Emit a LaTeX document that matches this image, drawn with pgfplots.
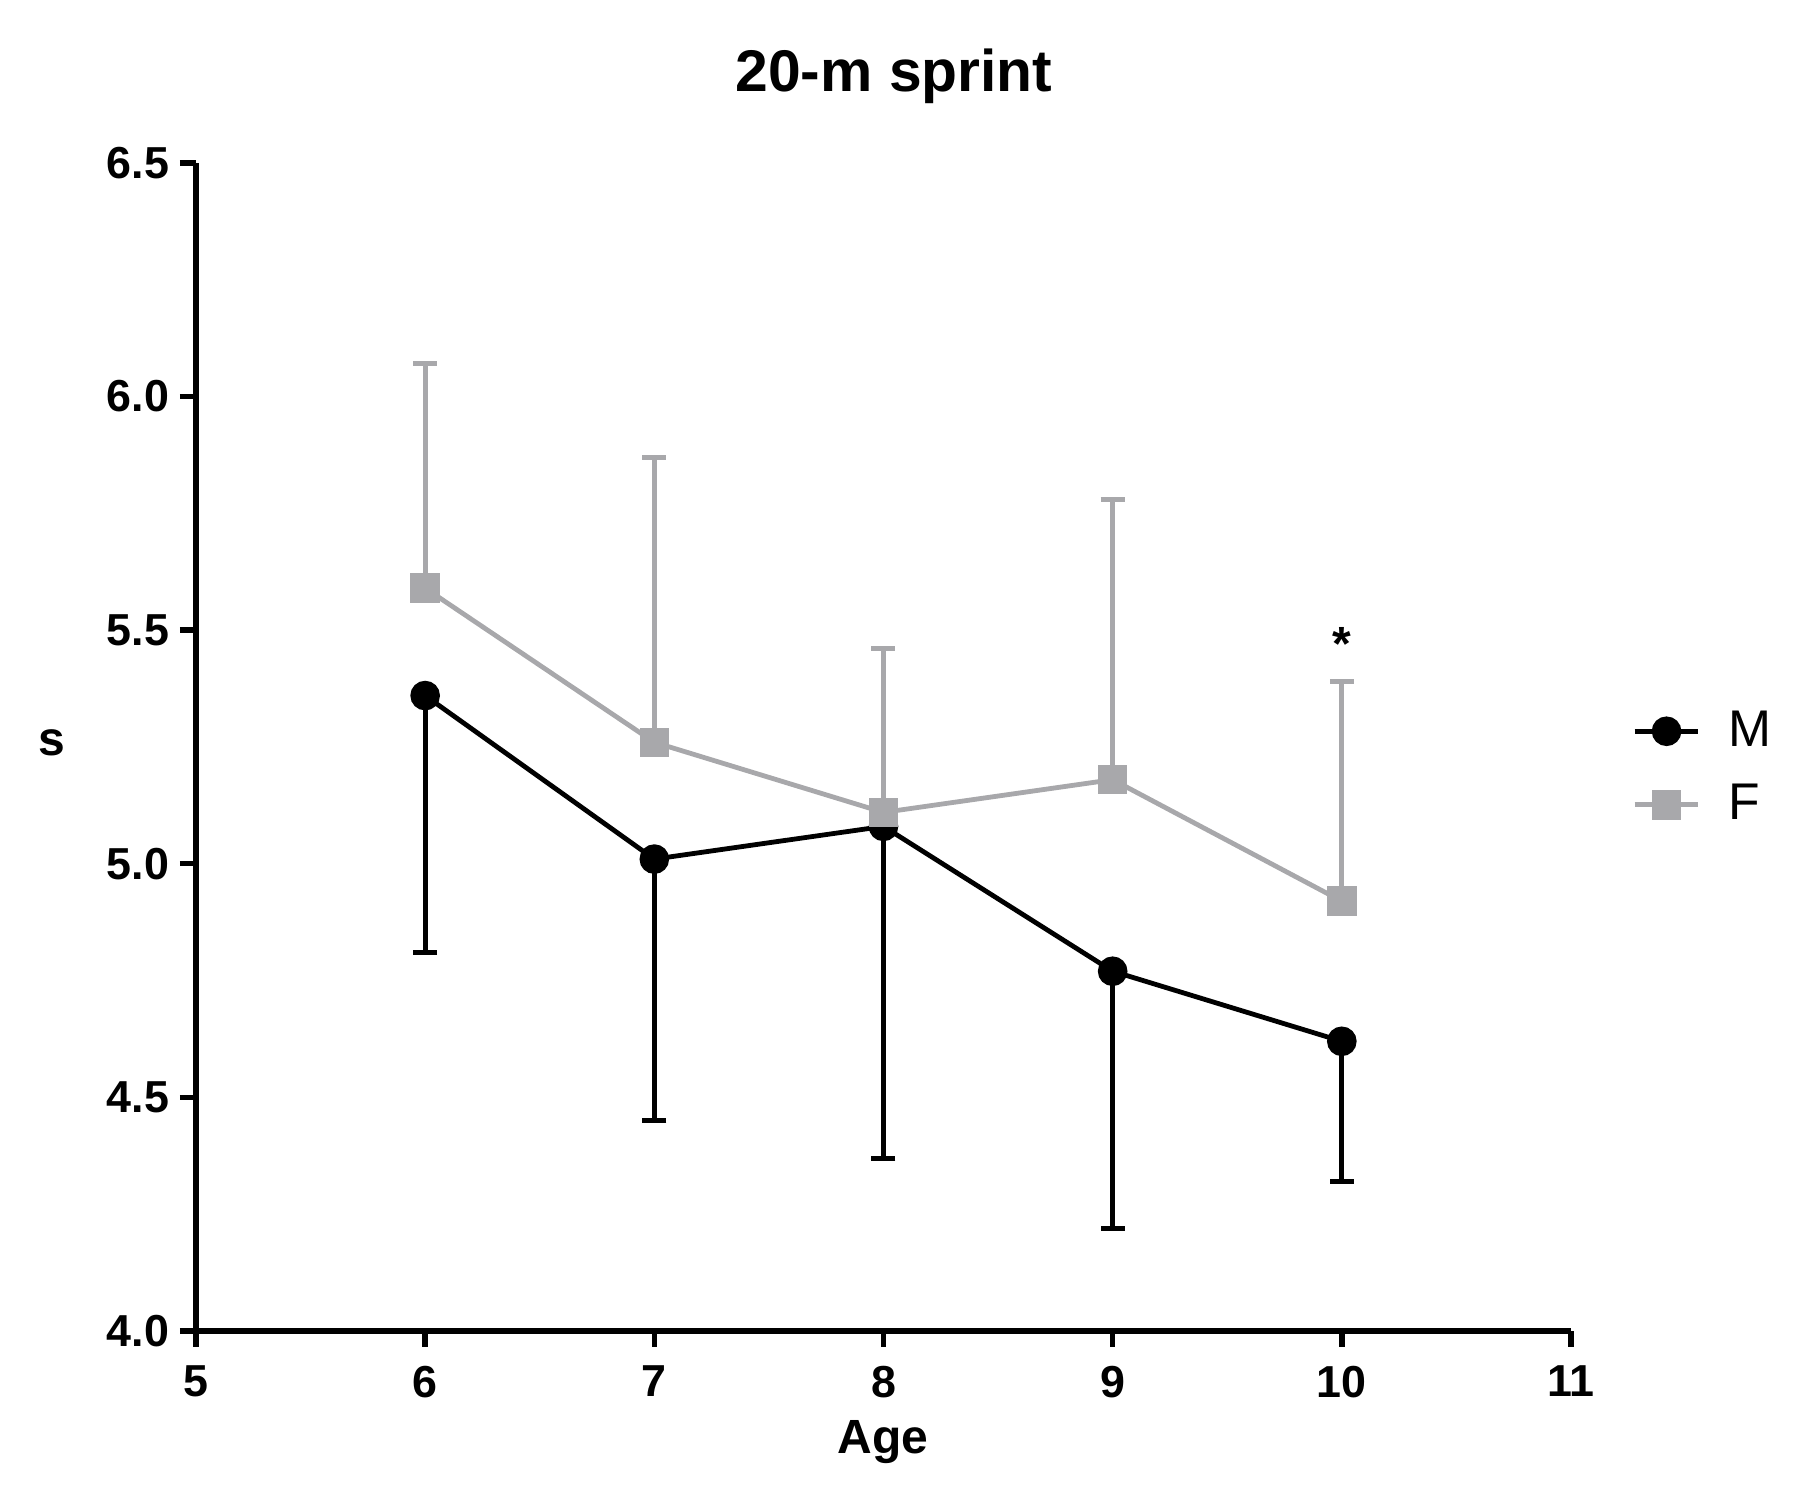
\documentclass[border=0pt]{standalone}
\usepackage{pgfplots}
\pgfplotsset{compat=1.18}
\usepackage{fontspec}
\setmainfont{Liberation Sans}
\definecolor{fgray}{RGB}{168,168,171}
\begin{document}
\begin{tikzpicture}
\useasboundingbox (0,0) rectangle (452.75pt,376.5pt);
\begin{axis}[
  at={(49pt,43.75pt)}, anchor=south west,
  scale only axis, width=343.75pt, height=292pt,
  xmin=5, xmax=11, ymin=4, ymax=6.5,
  axis x line*=bottom, axis y line*=left,
  axis line style={line width=1.35pt, black},
  xtick={5,6,7,8,9,10,11},
  ytick={4,4.5,5,5.5,6,6.5},
  minor tick num=0,
  tick align=outside, major tick length=4pt,
  tick style={line width=1.35pt, black},
  /pgf/number format/assume math mode=true,
  ticklabel style={font=\bfseries\fontsize{11.2}{13}\selectfont},
  yticklabel style={/pgf/number format/fixed, /pgf/number format/fixed zerofill, /pgf/number format/precision=1},
  xticklabel style={inner sep=0pt, anchor=north, yshift=-4.5pt},
  yticklabel style={inner sep=0pt, anchor=east, xshift=-2.5pt},
  xlabel={Age},
  xlabel style={font=\bfseries\fontsize{12}{14}\selectfont, at={(axis description cs:0.4996,-0.1045)}, anchor=base, inner sep=0pt},
  ylabel={s},
  ylabel style={font=\bfseries\fontsize{12}{14}\selectfont, rotate=-90, at={(axis description cs:-0.1047,0.504)}, anchor=center, inner sep=0pt},
  clip=false,
  legend style={at={(1.044,0.482)}, anchor=west, draw=none, fill=none, inner sep=0pt,
    font=\fontsize{12.9}{15}\selectfont, row sep=4pt, column sep=5pt, nodes={inner sep=2pt}},
  legend cell align=left,
  legend image code/.code={\draw[mark repeat=2,mark phase=2,#1] plot coordinates {(0cm,0cm)(0.28cm,0cm)(0.56cm,0cm)};},
]
\addplot[black, line width=1.2pt, mark=*, mark size=3.1pt, mark options={solid, fill=black},
  error bars/.cd, y dir=minus, y explicit,
  error bar style={line width=1.2pt, black},
  error mark options={rotate=90, mark size=3pt, line width=1.2pt, black}]
  coordinates {
  (6,5.36) -= (0,0.55)
  (7,5.01) -= (0,0.56)
  (8,5.08) -= (0,0.71)
  (9,4.77) -= (0,0.55)
  (10,4.62) -= (0,0.30)
  };
\addlegendentry{M}
\addplot[fgray, line width=1.2pt, mark=square*, mark size=3.1pt, mark options={solid, fill=fgray, draw=fgray},
  error bars/.cd, y dir=plus, y explicit,
  error bar style={line width=1.2pt, fgray},
  error mark options={rotate=90, mark size=3pt, line width=1.2pt, fgray}]
  coordinates {
  (6,5.59) += (0,0.48)
  (7,5.26) += (0,0.61)
  (8,5.11) += (0,0.35)
  (9,5.18) += (0,0.60)
  (10,4.92) += (0,0.47)
  };
\addlegendentry{F}
\node[font=\bfseries\fontsize{12}{14}\selectfont, inner sep=0pt] at (axis cs:10,5.47) {*};
\end{axis}
\node[anchor=base, font=\bfseries\fontsize{14.7}{17}\selectfont, inner sep=0pt] at (223.5pt,353.5pt) {20-m sprint};
\end{tikzpicture}
\end{document}
